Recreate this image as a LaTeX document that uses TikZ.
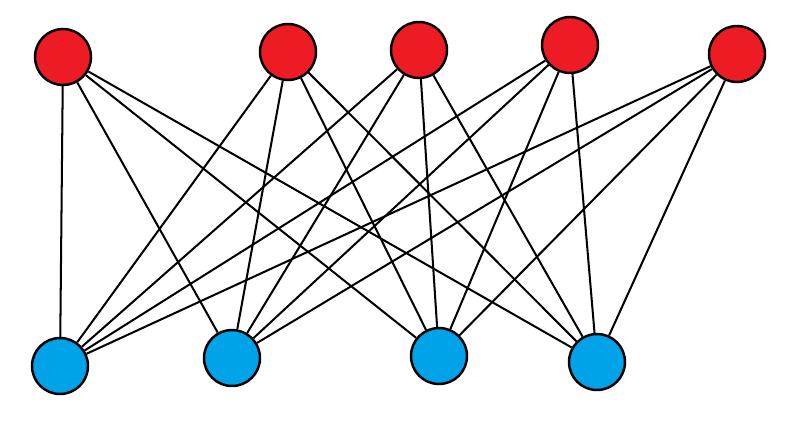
\documentclass[tikz,border=0pt]{standalone}
\usepackage{tikz}
\usetikzlibrary{positioning}
\definecolor{paintred}{RGB}{237, 28, 36}
\definecolor{paintblue}{RGB}{0, 162, 232}
\tikzset{
  topnode/.style={circle, draw=black, fill=paintred, line width=1.4pt, minimum size=1.12cm, inner sep=0pt},
  botnode/.style={circle, draw=black, fill=paintblue, line width=1.4pt, minimum size=1.12cm, inner sep=0pt},
  link/.style={draw=black, line width=1.15pt}
}
\begin{document}
\begin{tikzpicture}[x=0.02cm, y=-0.02cm]
    \useasboundingbox (0, 0) rectangle (787, 433);

    % Top row (red)
    \node[topnode] (r1) at (63, 57) {};
    \node[topnode] (r2) at (288, 52) {};
    \node[topnode] (r3) at (419, 50) {};
    \node[topnode] (r4) at (570, 45) {};
    \node[topnode] (r5) at (737, 54) {};

    % Bottom row (blue)
    \node[botnode] (b1) at (60, 366) {};
    \node[botnode] (b2) at (232, 358) {};
    \node[botnode] (b3) at (439, 356) {};
    \node[botnode] (b4) at (597, 362) {};

    % Every red node joined to every blue node
    \draw[link] (r1) -- (b1) (r1) -- (b2) (r1) -- (b3) (r1) -- (b4);
    \draw[link] (r2) -- (b1) (r2) -- (b2) (r2) -- (b3) (r2) -- (b4);
    \draw[link] (r3) -- (b1) (r3) -- (b2) (r3) -- (b3) (r3) -- (b4);
    \draw[link] (r4) -- (b1) (r4) -- (b2) (r4) -- (b3) (r4) -- (b4);
    \draw[link] (r5) -- (b1) (r5) -- (b2) (r5) -- (b3) (r5) -- (b4);
\end{tikzpicture}
\end{document}
